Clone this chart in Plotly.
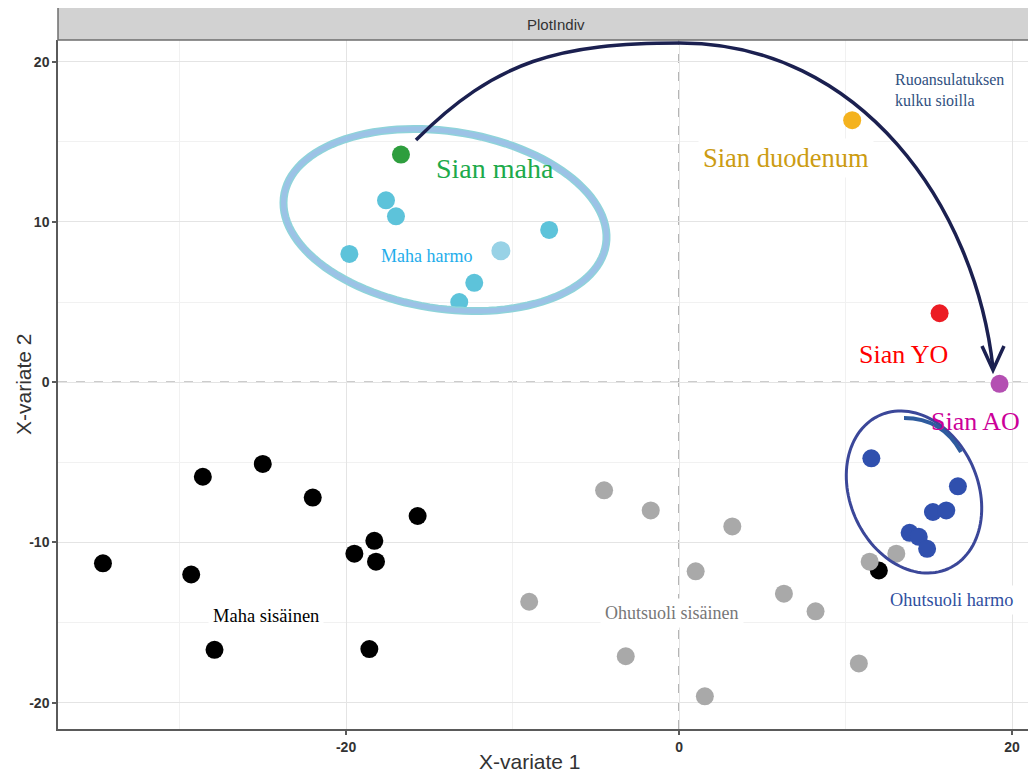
import numpy as np
import plotly.graph_objects as go

# ---------------- data ----------------
maha_sisainen_x = [-34.6, -29.3, -28.6, -25.0, -22.0, -19.5, -18.3, -18.2, -15.7, -27.9, -18.6, 12.0]
maha_sisainen_y = [-11.3, -12.0, -5.9, -5.1, -7.2, -10.7, -9.9, -11.2, -8.35, -16.7, -16.65, -11.75]

ohutsuoli_sisainen_x = [-4.5, -1.7, 3.2, 1.0, -9.0, -3.2, 1.55, 6.3, 8.2, 10.8, 11.45, 13.05]
ohutsuoli_sisainen_y = [-6.75, -8.0, -9.0, -11.8, -13.7, -17.1, -19.6, -13.2, -14.3, -17.55, -11.2, -10.7]

maha_harmo_x = [-17.6, -17.0, -19.8, -7.8, -12.3, -13.2]
maha_harmo_y = [11.35, 10.35, 8.0, 9.5, 6.2, 5.0]
maha_harmo_light_x = [-10.7]
maha_harmo_light_y = [8.2]

ohutsuoli_harmo_x = [11.55, 16.75, 15.25, 16.05, 13.85, 14.4, 14.9]
ohutsuoli_harmo_y = [-4.75, -6.5, -8.1, -8.0, -9.4, -9.65, -10.4]

sian_maha = (-16.7, 14.2)
sian_duodenum = (10.4, 16.35)
sian_yo = (15.65, 4.3)
sian_ao = (19.25, -0.1)

x_ticks = [-20, 0, 20]
y_ticks = [-20, -10, 0, 10, 20]

# ---------------- geometry helpers (reference pixel -> data / paper) ----------------
OFF = 8  # page body margin
W, H = 1036 - OFF, 773 - OFF
L, R, T, B = 58 - OFF, 0, 40 - OFF, 44
XR = [-37.3, 21.44]
YR = [-21.64, 21.35]
pw, ph = W - L - R, H - T - B


def px2x(px):
    return XR[0] + (px - OFF - L) / pw * (XR[1] - XR[0])


def py2y(py):
    return YR[1] - (py - OFF - T) / ph * (YR[1] - YR[0])


def ppx(px):
    return (px - OFF - L) / pw


def ppy(py):
    return (H - B - (py - OFF)) / ph


def ellipse_path(cx, cy, a, b, phi_deg, n=120):
    phi = np.radians(phi_deg)
    t = np.linspace(0, 2 * np.pi, n)
    xs = cx + a * np.cos(phi) * np.cos(t) - b * np.sin(phi) * np.sin(t)
    ys = cy + a * np.sin(phi) * np.cos(t) + b * np.cos(phi) * np.sin(t)
    pts = [f"{px2x(x):.4f},{py2y(y):.4f}" for x, y in zip(xs, ys)]
    return "M " + " L ".join(pts) + " Z"


def P(px, py):
    return f"{px2x(px):.4f},{py2y(py):.4f}"


fig = go.Figure()


def add_pts(x, y, color, size=18):
    fig.add_trace(go.Scatter(x=x, y=y, mode="markers",
                             marker=dict(color=color, size=size, line=dict(width=0)),
                             showlegend=False, hoverinfo="skip"))


add_pts(maha_sisainen_x, maha_sisainen_y, "#000000")
add_pts(ohutsuoli_sisainen_x, ohutsuoli_sisainen_y, "#A9A9A9")
add_pts(maha_harmo_x, maha_harmo_y, "#5DC3DA")
add_pts(maha_harmo_light_x, maha_harmo_light_y, "#98D2E6", 19)
add_pts(ohutsuoli_harmo_x, ohutsuoli_harmo_y, "#3050AE")
add_pts([sian_maha[0]], [sian_maha[1]], "#2E9E3E")
add_pts([sian_duodenum[0]], [sian_duodenum[1]], "#F4B21E")
add_pts([sian_yo[0]], [sian_yo[1]], "#EC1C24")
add_pts([sian_ao[0]], [sian_ao[1]], "#B44FB2")

shapes = []
# strip
shapes.append(dict(type="rect", xref="paper", yref="paper", x0=0, x1=1.05,
                   y0=1, y1=ppy(7), fillcolor="#D2D2D2",
                   line=dict(color="#6E6E6E", width=1.5), layer="above"))
# dashed zero lines
shapes.append(dict(type="line", xref="x", yref="paper", x0=0, x1=0, y0=0, y1=1,
                   line=dict(color="#9A9A9A", width=1.5, dash="dash"), layer="below"))
shapes.append(dict(type="line", xref="paper", yref="y", x0=0, x1=1, y0=0, y1=0,
                   line=dict(color="#9A9A9A", width=1.5, dash="dash"), layer="below"))
# light blue ellipse (Maha harmo)
shapes.append(dict(type="path", xref="x", yref="y",
                   path=ellipse_path(445, 220, 162.8, 88.7, 8.6),
                   line=dict(color="#8FD3DA", width=8)))
shapes.append(dict(type="path", xref="x", yref="y",
                   path=ellipse_path(445, 220, 162.8, 88.7, 8.6),
                   line=dict(color="#9CC2E6", width=5)))
# dark blue ellipse (Ohutsuoli harmo)
shapes.append(dict(type="path", xref="x", yref="y",
                   path=ellipse_path(914, 492, 84, 64, 66),
                   line=dict(color="#3B4799", width=3)))
# small blue arc
shapes.append(dict(type="path", xref="x", yref="y",
                   path=f"M {P(904, 418)} Q {P(942, 418)} {P(961, 452)}",
                   line=dict(color="#2E5B9E", width=4)))
# big arrow
shapes.append(dict(type="path", xref="x", yref="y",
                   path=(f"M {P(416, 140)} C {P(496, 60)} {P(560, 43)} {P(680, 43)} "
                         f"C {P(860, 43)} {P(975, 205)} {P(993, 368)}"),
                   line=dict(color="#1B2050", width=3.5)))
shapes.append(dict(type="path", xref="x", yref="y",
                   path=f"M {P(982, 346)} L {P(993, 370)} L {P(1004, 346)}",
                   line=dict(color="#1B2050", width=3.5)))

SERIF = "Liberation Serif, Times New Roman, serif"
SANS = "Liberation Sans, Arial, sans-serif"

ann = []


def text(px, py, s, color, size, bg=None, align="center", xanchor="center", font=SERIF):
    d = dict(x=ppx(px), y=ppy(py), xref="paper", yref="paper", text=s, showarrow=False,
             font=dict(family=font, size=size, color=color), xanchor=xanchor,
             yanchor="middle", align=align)
    if bg:
        d.update(bgcolor=bg, borderpad=4)
    ann.append(d)


text(495, 168, "Sian maha", "#1DAA4B", 28)
text(786, 158, "Sian duodenum", "#CC9C12", 26.5, bg="white")
text(890, 90, "Ruoansulatuksen<br>kulku sioilla", "#2F4F80", 16, bg="white",
     align="left", xanchor="left")
text(426, 256, "Maha harmo", "#1EADEB", 18, bg="white")
text(903, 354, "Sian YO", "#FF0000", 26, bg="white")
text(975, 422, "Sian AO", "#CC0099", 26)
text(951, 600, "Ohutsuoli harmo", "#2F4F9F", 18.3, bg="white")
text(266, 616, "Maha sisäinen", "#000000", 18.5, bg="white")
text(672, 613, "Ohutsuoli sisäinen", "#777777", 18, bg="white")
# strip label & axis titles
text(556, 24, "PlotIndiv", "#333333", 15, font=SANS)
text(530, 761, "X-variate 1", "#333333", 21, font=SANS)
ann.append(dict(x=ppx(23), y=ppy(384), xref="paper", yref="paper", text="X-variate 2",
                showarrow=False, textangle=-90,
                font=dict(family=SANS, size=21, color="#333333"),
                xanchor="center", yanchor="middle"))

fig.update_layout(
    width=W, height=H,
    margin=dict(l=L, r=R, t=T, b=B, pad=0),
    paper_bgcolor="white", plot_bgcolor="white",
    shapes=shapes, annotations=ann,
    xaxis=dict(range=XR, tickvals=x_ticks, ticktext=[f"<b>{v}</b>" for v in x_ticks],
               showgrid=True, gridcolor="#E4E4E4", gridwidth=1.2, zeroline=False,
               minor=dict(tickvals=[-30, -10, 10], showgrid=True, gridcolor="#F1F1F1",
                          gridwidth=1, ticks=""),
               showline=True, linecolor="#5A5A5A", linewidth=1.5,
               ticks="outside", ticklen=4, tickcolor="#5A5A5A", tickwidth=1.5,
               tickfont=dict(family=SANS, size=14, color="#333333"), mirror=False),
    yaxis=dict(range=YR, tickvals=y_ticks, ticktext=[f"<b>{v}</b>" for v in y_ticks],
               showgrid=True, gridcolor="#E4E4E4", gridwidth=1.2, zeroline=False,
               minor=dict(tickvals=[-15, -5, 5, 15], showgrid=True, gridcolor="#F1F1F1",
                          gridwidth=1, ticks=""),
               showline=True, linecolor="#5A5A5A", linewidth=1.5,
               ticks="outside", ticklen=4, tickcolor="#5A5A5A", tickwidth=1.5,
               tickfont=dict(family=SANS, size=14, color="#333333")),
)

fig.write_html("out.html", config={"displayModeBar": False})
